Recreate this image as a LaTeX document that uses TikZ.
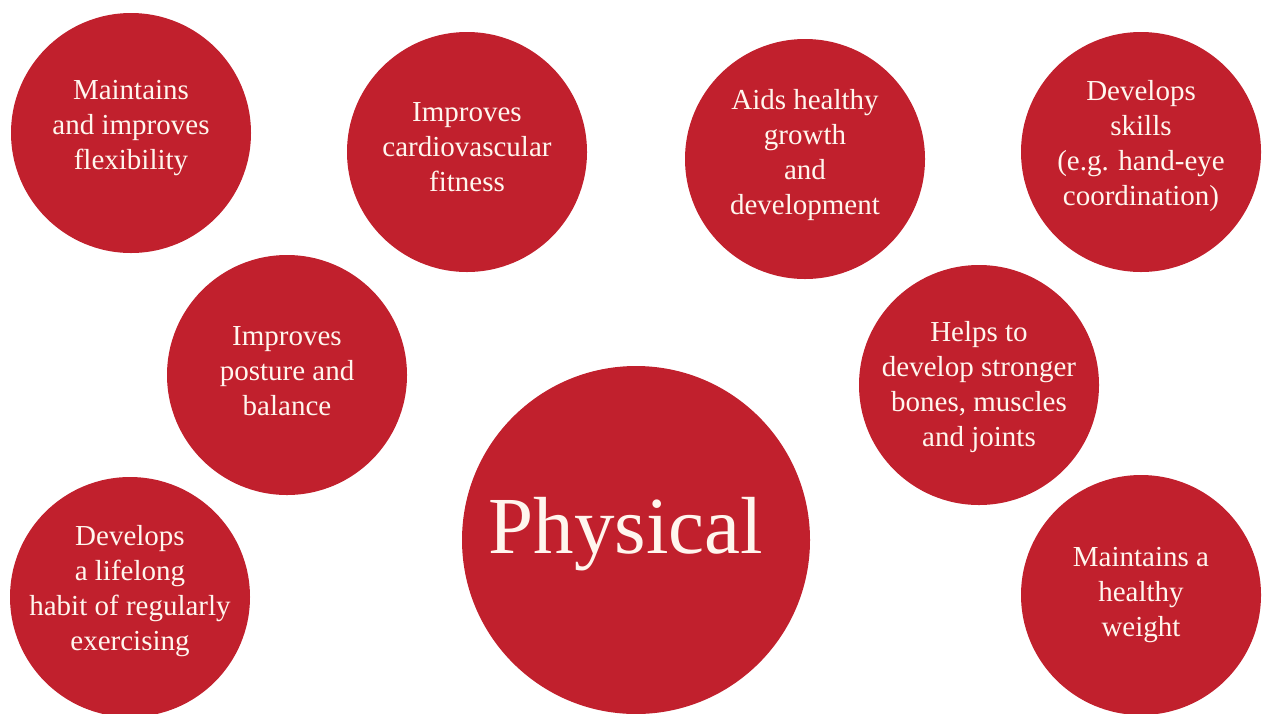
\documentclass[tikz,border=0pt]{standalone}
\usepackage{fontspec}
\setmainfont{Liberation Serif}
\usepackage{xcolor}
\definecolor{physred}{RGB}{193,32,45}
\definecolor{cream}{RGB}{255,246,238}
\tikzset{
  bubble/.style={circle,fill=physred,draw=none,minimum size=240pt,inner sep=0pt},
  bigbubble/.style={bubble,minimum size=348pt},
  bubbletxt/.style={text=cream,align=center,inner sep=0pt,font=\fontsize{29}{35}\selectfont},
  bigtxt/.style={bubbletxt,font=\fontsize{81}{90}\selectfont}
}
\begin{document}
\begin{tikzpicture}[x=1pt,y=1pt]
        \useasboundingbox (0,0) rectangle (1265,-713);
        \clip (0,0) rectangle (1265,-713);
        %circles
        \node[bubble] (flex) at (131,-133) {};
        \node[bubble] (cardio) at (467,-152) {};
        \node[bubble] (growth) at (805,-159) {};
        \node[bubble] (skills) at (1141,-152) {};
        \node[bubble] (posture) at (287,-375) {};
        \node[bubble] (bones) at (979,-385) {};
        \node[bigbubble] (phys) at (636,-540) {};
        \node[bubble] (habit) at (130,-597) {};
        \node[bubble] (weight) at (1141,-595) {};
        %texts
        \node[bubbletxt] (flextxt) at ([yshift=5pt]flex) {Maintains\\and improves\\flexibility};
        \node[bubbletxt] (cardiotxt) at ([yshift=5pt]cardio) {Improves\\cardiovascular\\fitness};
        \node[bubbletxt] (growthtxt) at ([yshift=4pt]growth) {Aids healthy\\growth\\and\\development};
        \node[bubbletxt] (skillstxt) at ([yshift=6pt]skills) {Develops\\skills\\(e.g. hand-eye\\coordination)};
        \node[bubbletxt] (posturetxt) at ([yshift=4pt]posture) {Improves\\posture and\\balance};
        \node[bubbletxt] (bonestxt) at ([yshift=-2pt]bones) {Helps to\\develop stronger\\bones, muscles\\and joints};
        \node[bigtxt] (phystxt) at ([xshift=-10pt,yshift=6pt]phys) {Physical};
        \node[bubbletxt] (habittxt) at ([yshift=6pt]habit) {Develops\\a lifelong\\habit of regularly\\exercising};
        \node[bubbletxt] (weighttxt) at (weight) {Maintains a\\healthy\\weight};
\end{tikzpicture}
\end{document}
